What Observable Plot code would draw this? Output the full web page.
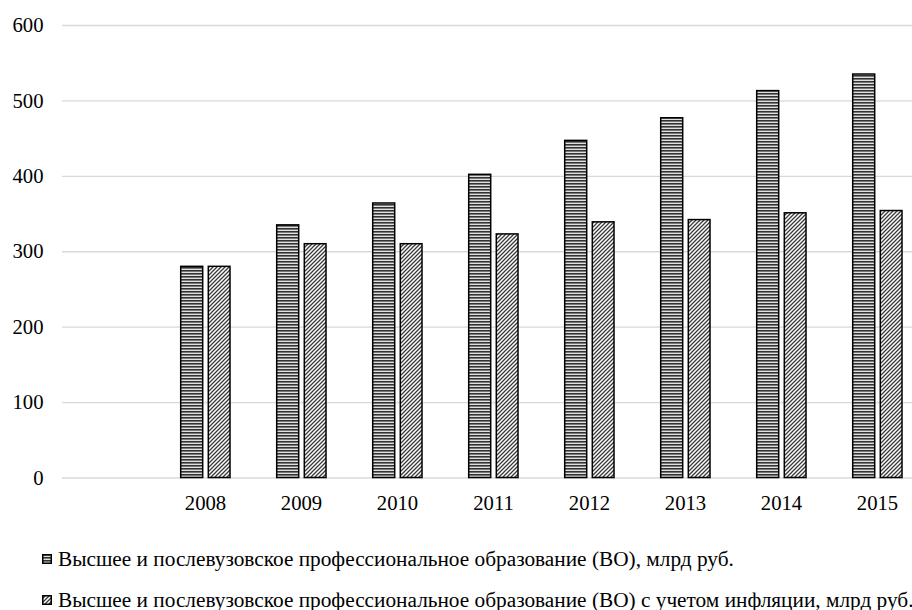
<!DOCTYPE html>
<html><head><meta charset="utf-8">
<script src="https://cdn.jsdelivr.net/npm/d3@7"></script>
<script src="https://cdn.jsdelivr.net/npm/@observablehq/plot@0.6"></script>
<style>
html,body{margin:0;padding:0;background:#fff;}
#wrap{position:relative;width:912px;height:610px;overflow:hidden;font-family:'Liberation Serif';color:#000;}
#defs{position:absolute;width:0;height:0;}
#chart{position:absolute;left:0;top:0;}
.leg{position:absolute;left:42px;font-family:'Liberation Serif';font-size:21.3px;white-space:nowrap;line-height:21.3px;}
.leg svg{vertical-align:2px;margin-right:6px;}
</style>
</head><body>
<div id="wrap">
<svg id="defs" width="0" height="0">
  <defs>
    <pattern id="hstripe" patternUnits="userSpaceOnUse" width="4" height="3">
      <rect width="4" height="3" fill="#e0e0e0"/>
      <rect width="4" height="1.6" fill="#333333"/>
    </pattern>
    <pattern id="dstripe" patternUnits="userSpaceOnUse" width="4" height="4">
      <rect width="4" height="4" fill="#ffffff"/>
      <path d="M-1,1 l2,-2 M0,4 l4,-4 M3,5 l2,-2" stroke="#3a3a3a" stroke-width="1.3"/>
    </pattern>
  </defs>
</svg>
<div id="chart"></div>
<div class="leg" id="leg1" style="top:549px"></div>
<div class="leg" id="leg2" style="top:589.5px"></div>
</div>
<script>
const years = [2008, 2009, 2010, 2011, 2012, 2013, 2014, 2015];
const vo = [280, 335, 364, 402, 447, 477, 513, 535];
const voInflation = [280, 310, 310, 323, 339, 342, 351, 354];
const yTicks = [0, 100, 200, 300, 400, 500, 600];
const seriesNames = [
  "Высшее и послевузовское профессиональное образование (ВО), млрд руб.",
  "Высшее и послевузовское профессиональное образование (ВО) с учетом инфляции, млрд руб."
];
const patterns = ["url(#hstripe)", "url(#dstripe)"];

const data = years.map((y, i) => ({year: y, vo: vo[i], infl: voInflation[i]}));

const chart = Plot.plot({
  width: 912,
  height: 520,
  marginLeft: 62,
  marginRight: 0,
  marginTop: 25,
  marginBottom: 42.5,
  style: {fontFamily: "'Liberation Serif'", fontSize: "20.7px", color: "#000", background: "#fff"},
  x: {type: "band", domain: years, range: [157, 925], padding: 0, label: null, tickSize: 0, tickPadding: 17, tickFormat: d => String(d)},
  y: {domain: [0, 600], ticks: yTicks, label: null, tickSize: 0, tickPadding: 19},
  marks: [
    Plot.ruleY(yTicks, {stroke: "#d9d9d9", strokeWidth: 1.4}),
    Plot.barY(data, {x: "year", y: "vo", fill: patterns[0], stroke: "#000", strokeWidth: 1.5, insetLeft: 23.7, insetRight: 50.3}),
    Plot.barY(data, {x: "year", y: "infl", fill: patterns[1], stroke: "#000", strokeWidth: 1.5, insetLeft: 51.3, insetRight: 23})
  ]
});
document.getElementById("chart").appendChild(chart);

function swatch(p) {
  return `<svg width="10" height="10"><rect x="0.75" y="0.75" width="8.5" height="8.5" fill="${p}" stroke="#000" stroke-width="1.5"/></svg>`;
}
document.getElementById("leg1").innerHTML = swatch(patterns[0]) + seriesNames[0];
document.getElementById("leg2").innerHTML = swatch(patterns[1]) + seriesNames[1];
</script>
</body></html>
